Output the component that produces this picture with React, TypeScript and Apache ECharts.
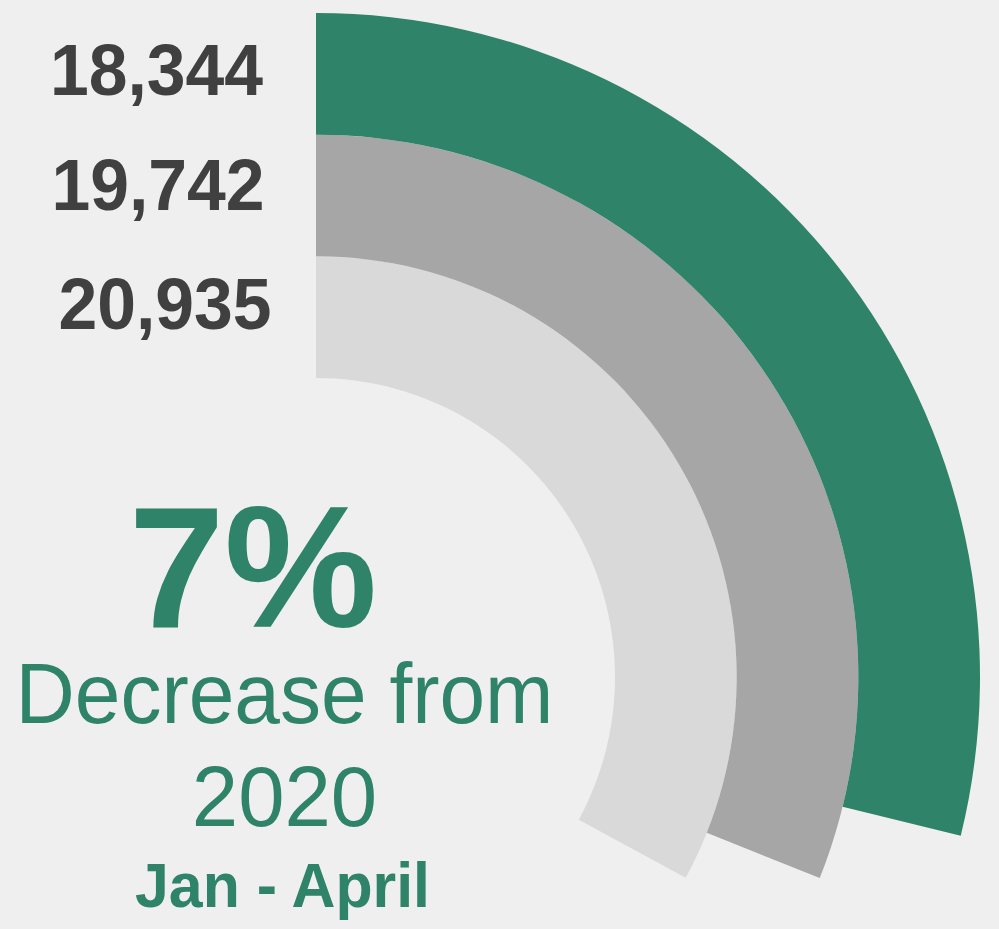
import React, { useEffect, useRef } from "react";
import * as echarts from "echarts";

// ---- data ----
const categories: string[] = ["2019", "2020", "2021"]; // inner -> outer ring
const values: number[] = [20935, 19742, 18344];
const ringColors: string[] = ["#D9D9D9", "#A6A6A6", "#2E8368"];
const headline = "7%";
const subtitleLines: string[] = ["Decrease from", "2020"];
const periodText = "Jan - April";

// ---- layout constants ----
const W = 999;
const H = 929;
const CX = 316;
const CY = 677;
const R_IN = 299;
const R_OUT = 664;
const ANGLE_MAX = 63600;
const GREEN = "#2E8368";
const FONT = "'Liberation Sans', Arial, Helvetica, sans-serif";

export default function App() {
  const ref = useRef<HTMLDivElement>(null);

  useEffect(() => {
    if (!ref.current) return;
    const chart = echarts.init(ref.current, undefined, { renderer: "svg" });

    const band = (R_OUT - R_IN) / categories.length;
    // value labels, placed beside the start of each ring (outer ring on top)
    const labelX = [165, 158, 156.5];
    const labelShift = [-15, -12.5, -5.5];
    const valueLabels = values.map((v, i) => {
      const ringMid = CY - (R_IN + band * (i + 0.5));
      return {
        type: "text",
        x: labelX[i],
        y: ringMid + labelShift[i] + 1,
        scaleX: 0.955,
        style: {
          text: v.toLocaleString("en-US"),
          fontFamily: FONT,
          fontWeight: "bold",
          fontSize: 73,
          fill: "#404040",
          align: "center",
          verticalAlign: "middle",
        },
      };
    });

    const centerTexts = [
      {
        type: "text",
        x: 253,
        y: 567,
        style: {
          text: headline,
          fontFamily: FONT,
          fontWeight: "bold",
          fontSize: 172,
          fill: GREEN,
          align: "center",
          verticalAlign: "middle",
        },
      },
      ...subtitleLines.map((t, i) => ({
        type: "text",
        x: 284.5,
        y: [693, 796.5][i],
        scaleX: [0.965, 0.98][i],
        style: {
          text: t,
          fontFamily: FONT,
          fontSize: 85,
          fill: GREEN,
          align: "center",
          verticalAlign: "middle",
        },
      })),
      {
        type: "text",
        x: 282.5,
        y: 885.5,
        scaleX: 0.965,
        style: {
          text: periodText,
          fontFamily: FONT,
          fontWeight: "bold",
          fontSize: 63,
          fill: GREEN,
          align: "center",
          verticalAlign: "middle",
        },
      },
    ];

    chart.setOption({
      animation: false,
      backgroundColor: "#EFEFEF",
      polar: {
        center: [CX, CY],
        radius: [R_IN, R_OUT],
      },
      angleAxis: {
        type: "value",
        min: 0,
        max: ANGLE_MAX,
        startAngle: 90,
        clockwise: true,
        show: false,
        axisLine: { show: false },
        axisTick: { show: false },
        axisLabel: { show: false },
        splitLine: { show: false },
      },
      radiusAxis: {
        type: "category",
        data: categories,
        show: false,
        axisLine: { show: false },
        axisTick: { show: false },
        axisLabel: { show: false },
        splitLine: { show: false },
      },
      series: [
        {
          type: "bar",
          coordinateSystem: "polar",
          barCategoryGap: "0%",
          data: values.map((v, i) => ({
            value: v,
            itemStyle: { color: ringColors[i] },
          })),
        },
      ],
      graphic: [...valueLabels, ...centerTexts],
    });

    return () => chart.dispose();
  }, []);

  return (
    <div
      ref={ref}
      style={{ position: "fixed", left: 0, top: 0, width: W, height: H }}
    />
  );
}
